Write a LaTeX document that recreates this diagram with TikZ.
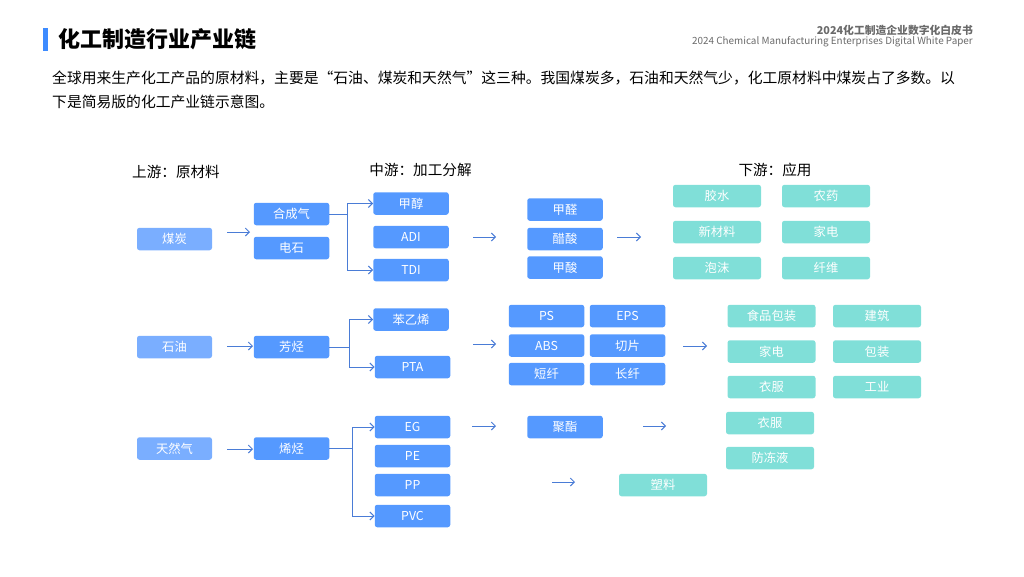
\documentclass[tikz,border=0pt]{standalone}
\usepackage{fontspec}
\setmainfont{Noto Sans CJK SC}
\usetikzlibrary{arrows.meta}

\definecolor{srcblue}{HTML}{7AAEFF}
\definecolor{midblue}{HTML}{5599FF}
\definecolor{appteal}{HTML}{80DFD8}
\definecolor{arrowblue}{HTML}{4A7CD6}
\definecolor{headgrey}{HTML}{6A6A6A}
\definecolor{barblue}{HTML}{3D8BFF}

\tikzstyle{box}=[%
	rounded corners = 2.5pt,
	minimum height = 22.5pt,
	inner sep = 0pt,
	text = white,
	font = \fontsize{12.3}{12.3}\selectfont
]
\tikzstyle{srcbox}=[box, fill=srcblue, minimum width=75pt]
\tikzstyle{midbox}=[box, fill=midblue, minimum width=75.5pt]
\tikzstyle{appbox}=[box, fill=appteal, minimum width=88pt]
\tikzstyle{arr}=[draw=arrowblue, line width=1pt, -{Straight Barb[length=4pt,width=8pt]}]
\tikzstyle{stage}=[font=\fontsize{14.6}{14.6}\selectfont]

\begin{document}
\begin{tikzpicture}[x=1pt, y=-1pt]
	\useasboundingbox (0,0) rectangle (1024,576);

	% Header
	\fill[barblue] (43,28) rectangle (48,51);
	\node[anchor=west, inner sep=0, font=\fontsize{22}{22}\selectfont\bfseries] (title) at (58,39) {化工制造行业产业链};
	\node[anchor=east, inner sep=0, text=headgrey, font=\fontsize{10.8}{10.8}\selectfont\bfseries] (wp) at (973,30) {2024化工制造企业数字化白皮书};
	\node[anchor=east, inner sep=0, text=headgrey, font=\fontsize{9.9}{9.9}\selectfont] (wpen) at (973,42) {2024 Chemical Manufacturing Enterprises Digital White Paper};
	\node[anchor=west, inner sep=0, align=left, font=\fontsize{14.8}{24}\selectfont] (intro) at (52,90)
		{全球用来生产化工产品的原材料，主要是“石油、煤炭和天然气”这三种。我国煤炭多，石油和天然气少，化工原材料中煤炭占了多数。以\\下是简易版的化工产业链示意图。};

	% Stages
	\node[stage] (up) at (176,172) {上游：原材料};
	\node[stage] (mid) at (420.5,170) {中游：加工分解};
	\node[stage] (down) at (775,170) {下游：应用};

	% % Coal
	\node[srcbox] (coal) at (174.5,239) {煤炭};
	\node[midbox] (syngas) at (291.5,214) {合成气};
	\node[midbox] (carbide) at (291.5,248) {电石};
	\node[midbox] (methanol) at (411,203.5) {甲醇};
	\node[midbox] (ADI) at (411,237) {ADI};
	\node[midbox] (TDI) at (411,270) {TDI};
	\node[midbox] (formald) at (565,209.5) {甲醛};
	\node[midbox] (acetic) at (565,239) {醋酸};
	\node[midbox] (formic) at (565,267.5) {甲酸};
	\node[appbox] (glue) at (717,196) {胶水};
	\node[appbox] (pesticide) at (826,196) {农药};
	\node[appbox] (newmat) at (717,232) {新材料};
	\node[appbox] (homeapp) at (826,232) {家电};
	\node[appbox] (foam) at (717,268) {泡沫};
	\node[appbox] (fibre) at (826,268) {纤维};

	% % Oil
	\node[srcbox] (oil) at (174.5,347) {石油};
	\node[midbox] (aromatic) at (291.5,347) {芳烃};
	\node[midbox] (styrene) at (411,319.5) {苯乙烯};
	\node[midbox] (PTA) at (412.5,367) {PTA};
	\node[midbox] (PS) at (546.5,316) {PS};
	\node[midbox] (EPS) at (627.5,316) {EPS};
	\node[midbox] (ABS) at (546.5,345.5) {ABS};
	\node[midbox] (chip) at (627.5,345.5) {切片};
	\node[midbox] (staple) at (546.5,374) {短纤};
	\node[midbox] (filament) at (627.5,374) {长纤};
	\node[appbox] (foodpack) at (771.5,316) {食品包装};
	\node[appbox] (building) at (877,316) {建筑};
	\node[appbox] (homeappb) at (771.5,351.5) {家电};
	\node[appbox] (packing) at (877,351.5) {包装};
	\node[appbox] (clothes) at (771.5,387) {衣服};
	\node[appbox] (industry) at (877,387) {工业};

	% % Natural gas
	\node[srcbox] (gas) at (174.5,448.5) {天然气};
	\node[midbox] (olefin) at (291.5,448.5) {烯烃};
	\node[midbox] (EG) at (412.5,427) {EG};
	\node[midbox] (PE) at (412.5,456) {PE};
	\node[midbox] (PP) at (412.5,485) {PP};
	\node[midbox] (PVC) at (412.5,516) {PVC};
	\node[midbox] (polyester) at (565,427) {聚酯};
	\node[appbox] (clothesb) at (770,423) {衣服};
	\node[appbox] (antifreeze) at (770,458) {防冻液};
	\node[appbox] (plastic) at (663,485) {塑料};

	% Branches
	\draw[arr] (syngas.east) -- ++(18,0) |- (methanol.west);
	\draw[arr] (syngas.east) -- ++(18,0) |- (TDI.west);
	\draw[arr] (aromatic.east) -- ++(20,0) |- (styrene.west);
	\draw[arr] (aromatic.east) -- ++(20,0) |- (PTA.west);
	\draw[arr] (olefin.east) -- ++(23,0) |- (EG.west);
	\draw[arr] (olefin.east) -- ++(23,0) |- (PVC.west);

	% Arrows between columns
	\foreach \n/\x/\y/\l in {a/227/232/23, b/473/237/23, c/617/237/24, d/227/346/26, e/473/344/23,
			f/683/346/24, g/227/449/26, h/472/426/24, i/643/426/23, j/552/482/23} {
		\coordinate (step\n) at (\x,\y);
		\draw[arr] (step\n) -- ++(\l,0);
	}

\end{tikzpicture}
\end{document}
